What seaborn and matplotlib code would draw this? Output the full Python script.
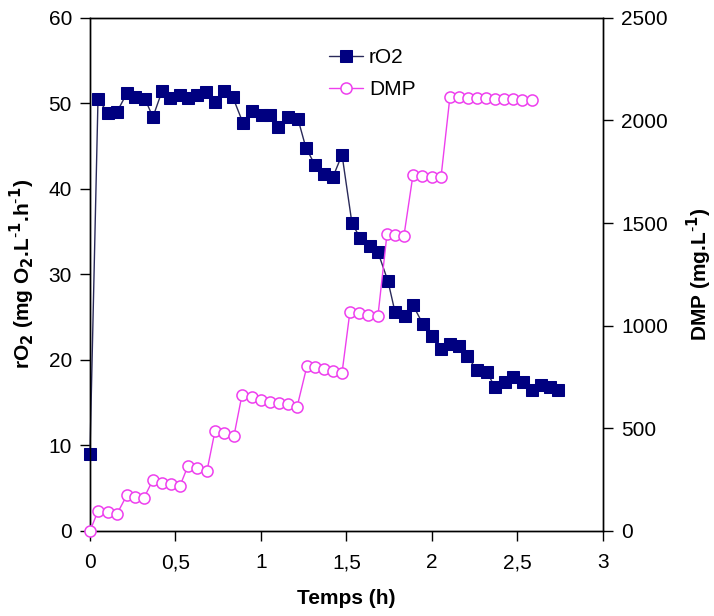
import matplotlib
matplotlib.use("Agg")
import matplotlib.pyplot as plt
import seaborn as sns

# rO2 series (mg O2/L/h) vs time (h)
t_ro2 = [0.0, 0.047, 0.105, 0.158, 0.216, 0.263, 0.322, 0.368, 0.421, 0.468,
         0.526, 0.573, 0.626, 0.678, 0.731, 0.784, 0.836, 0.895, 0.947, 1.006,
         1.053, 1.099, 1.158, 1.216, 1.263, 1.316, 1.368, 1.421, 1.474, 1.532,
         1.579, 1.637, 1.684, 1.743, 1.784, 1.842, 1.889, 1.947, 2.000, 2.053,
         2.105, 2.158, 2.205, 2.263, 2.322, 2.368, 2.427, 2.474, 2.532, 2.585,
         2.637, 2.690, 2.737]
ro2 = [9.0, 50.5, 48.9, 49.0, 51.2, 50.7, 50.5, 48.4, 51.4, 50.6,
       51.0, 50.6, 51.0, 51.3, 50.2, 51.4, 50.7, 47.7, 49.1, 48.7,
       48.7, 47.2, 48.4, 48.2, 44.8, 42.8, 41.8, 41.4, 44.0, 36.0,
       34.3, 33.3, 32.6, 29.2, 25.6, 25.1, 26.4, 24.2, 22.8, 21.3,
       21.9, 21.6, 20.5, 18.8, 18.6, 16.8, 17.4, 18.0, 17.4, 16.5,
       17.1, 16.8, 16.5]

# DMP series (mg/L) vs time (h)
t_dmp = [0.0, 0.047, 0.105, 0.158, 0.216, 0.263, 0.316, 0.368, 0.421, 0.474,
         0.526, 0.573, 0.626, 0.684, 0.731, 0.784, 0.842, 0.889, 0.947, 1.000,
         1.053, 1.105, 1.158, 1.211, 1.269, 1.316, 1.368, 1.421, 1.474, 1.520,
         1.573, 1.626, 1.684, 1.737, 1.784, 1.836, 1.889, 1.942, 2.000, 2.053,
         2.105, 2.158, 2.211, 2.263, 2.316, 2.368, 2.421, 2.474, 2.526, 2.585]
dmp = [0, 97, 92, 83, 175, 166, 161, 249, 234, 229,
       219, 317, 307, 292, 487, 478, 463, 663, 653, 638,
       629, 624, 619, 604, 804, 797, 789, 779, 770, 1067,
       1062, 1053, 1048, 1447, 1442, 1438, 1735, 1730, 1725, 1725,
       2115, 2113, 2111, 2110, 2108, 2106, 2105, 2103, 2100, 2098]

x_ticks = [0, 0.5, 1, 1.5, 2, 2.5, 3]
x_ticklabels = ["0", "0,5", "1", "1,5", "2", "2,5", "3"]

sns.set_style("ticks")
plt.rcParams["font.family"] = ["Liberation Sans", "DejaVu Sans"]
plt.rcParams["text.color"] = "black"
plt.rcParams["axes.labelcolor"] = "black"

fig = plt.figure(figsize=(7.14, 6.16), dpi=100)
ax = fig.add_axes([0.126, 0.138, 0.7185, 0.833])
ax2 = ax.twinx()

navy = "#000080"
pink = "#ee3fee"

sns.lineplot(x=t_ro2, y=ro2, ax=ax, color="#2a2a5a", linewidth=1.0,
             marker="s", markersize=8.5, markerfacecolor=navy,
             markeredgecolor=navy, estimator=None, label="rO2",
             clip_on=False, zorder=3)
sns.lineplot(x=t_dmp, y=dmp, ax=ax2, color=pink, linewidth=1.0,
             marker="o", markersize=8, markerfacecolor="white",
             markeredgecolor=pink, markeredgewidth=1.1, estimator=None,
             label="DMP", clip_on=False, zorder=3)

ax.set_xlim(0, 3)
ax.set_ylim(0, 60)
ax2.set_ylim(0, 2500)
ax.set_xticks(x_ticks)
ax.set_xticklabels(x_ticklabels)
ax.set_yticks(range(0, 61, 10))
ax2.set_yticks(range(0, 2501, 500))

for a in (ax, ax2):
    for s in a.spines.values():
        s.set_visible(True)
        s.set_color("black")
        s.set_linewidth(1.0)
    a.tick_params(labelsize=15, length=7, width=1.0, pad=6,
                  colors="black", direction="out")
ax.tick_params(axis="x", pad=9)

ax.set_xlabel("Temps (h)", fontsize=15, fontweight="bold", labelpad=12)
ax.set_ylabel(r"rO$_\mathbf{2}$ (mg O$_\mathbf{2}$.L$^{\mathbf{\text{-}1}}$.h$^{\mathbf{\text{-}1}}$)",
              fontsize=15, fontweight="bold", labelpad=8)
ax2.set_ylabel(r"DMP (mg.L$^{\mathbf{\text{-}1}}$)", fontsize=15, fontweight="bold",
               rotation=90, labelpad=12)

h1, l1 = ax.get_legend_handles_labels()
h2, l2 = ax2.get_legend_handles_labels()
ax.get_legend().remove()
ax2.legend(h1 + h2, l1 + l2, loc="upper left", bbox_to_anchor=(0.43, 0.978),
           frameon=False, fontsize=15, handlelength=1.6, handletextpad=0.3,
           labelspacing=0.65)

fig.savefig("out.png", dpi=100)
